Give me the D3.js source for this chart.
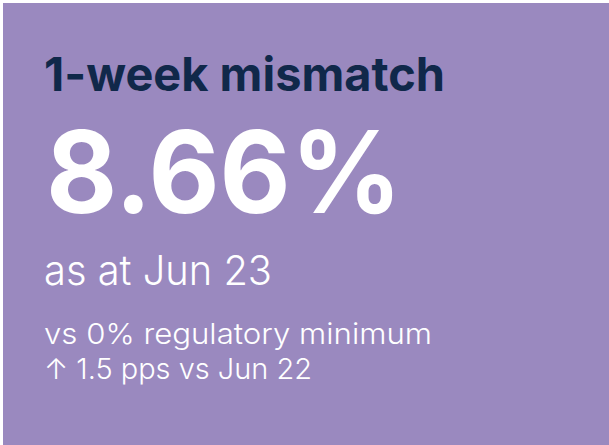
<!DOCTYPE html>
<html>
<head>
<meta charset="utf-8">
<script src="https://cdn.jsdelivr.net/npm/d3@7"></script>
<style>
  html, body { margin: 0; padding: 0; background: #ffffff; }
  svg { display: block; }
</style>
</head>
<body>
<div id="card"></div>
<script>
var svgSize = { width: 609, height: 445 };

// card content
var kpiTitle = ['1-week mismatch'];
var kpiValue = [8.66];
var kpiDate = ['Jun 23'];
var kpiNotes = ['vs 0% regulatory minimum', '\u2191 1.5 pps vs Jun 22'];

var fmt = d3.format('.2f');

var svg = d3.select('#card').append('svg')
    .attr('width', svgSize.width)
    .attr('height', svgSize.height);

svg.append('rect')
    .attr('x', 3).attr('y', 3)
    .attr('width', svgSize.width - 3)
    .attr('height', svgSize.height - 3)
    .attr('fill', '#9a89bf');

var g = svg.append('g').attr('font-family', 'Inter, "Noto Sans", sans-serif');

// text, x, baseline y, size, weight, colour, target width
function addLine(txt, x, y, size, weight, color, w) {
    var t = g.append('text')
        .attr('x', x)
        .attr('y', y)
        .attr('font-size', size)
        .attr('font-weight', weight)
        .attr('fill', color)
        .text(txt);
    if (w) t.attr('textLength', w).attr('lengthAdjust', 'spacingAndGlyphs');
    return t;
}

addLine(kpiTitle[0], 44, 91, 47, 700, '#10284a', 401);
addLine(fmt(kpiValue[0]) + '%', 46, 213, 114, 700, '#ffffff', 356);
addLine('as at ' + kpiDate[0], 44, 285, 41, 300, '#ffffff', 228);

g.selectAll('text.note')
    .data(kpiNotes)
    .enter()
    .append('text')
    .attr('class', 'note')
    .attr('x', 44)
    .attr('y', function(d, i) { return 344 + i * 35; })
    .attr('font-size', 29)
    .attr('font-weight', 300)
    .attr('fill', '#ffffff')
    .attr('textLength', function(d, i) { return i === 0 ? 388 : 268; })
    .attr('lengthAdjust', 'spacingAndGlyphs')
    .text(function(d) { return d; });
</script>
</body>
</html>
